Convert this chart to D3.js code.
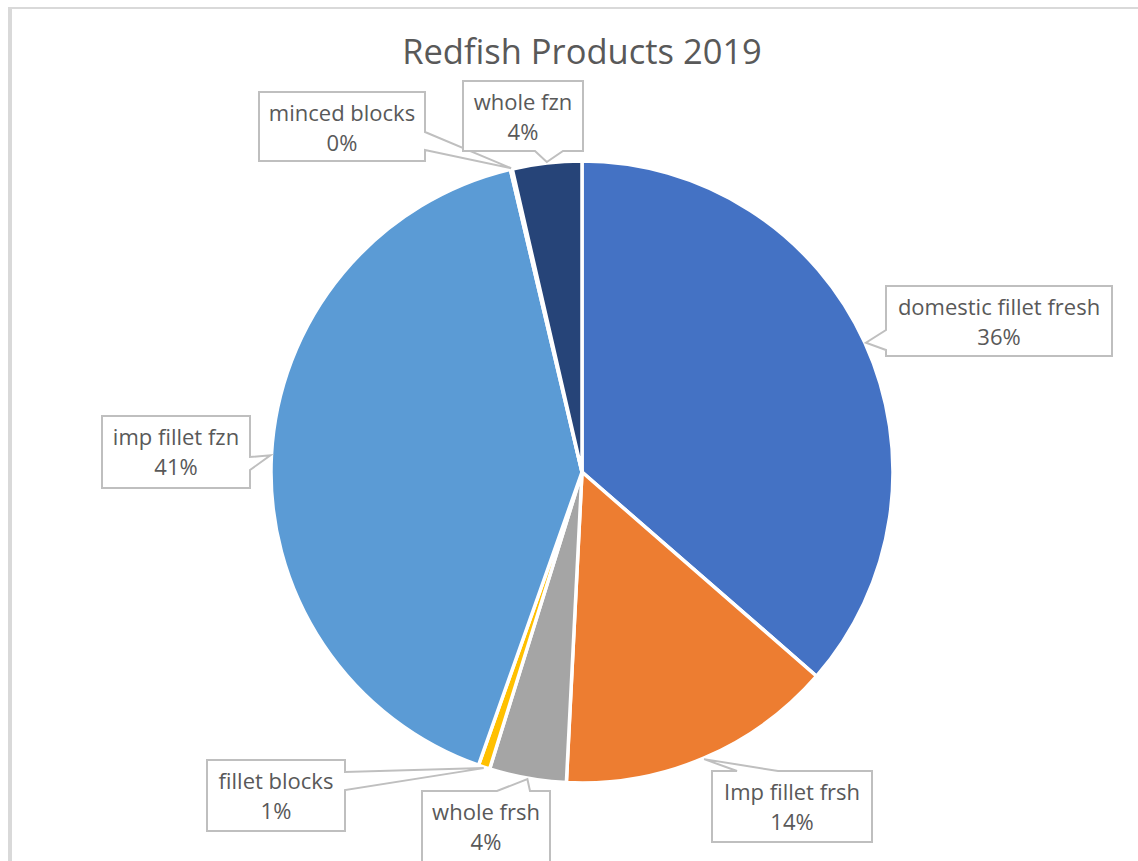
<!DOCTYPE html>
<html>
<head>
<meta charset="utf-8">
<script src="https://cdn.jsdelivr.net/npm/d3@7/dist/d3.min.js"></script>
<style>
  html, body { margin: 0; padding: 0; background: #ffffff; }
  svg { display: block; }
  text { font-family: "Open Sans", "Lato", "Liberation Sans", sans-serif; fill: #595959; }
</style>
</head>
<body>
<svg id="chart" width="1138" height="861"></svg>
<script>
// ---- data ----
const title = "Redfish Products 2019";
const categories = ["domestic fillet fresh", "Imp fillet frsh", "whole frsh", "fillet blocks", "imp fillet fzn", "minced blocks", "whole fzn"];
const values = [36.4, 14.4, 4.0, 0.6, 40.9, 0.1, 3.6];
const colors = ["#4472C4", "#ED7D31", "#A5A5A5", "#FFC000", "#5B9BD5", "#70AD47", "#264478"];

// ---- layout (callout boxes: x, y, w, h, tail side, tail base range) ----
const calloutLayout = [
  { box: [886, 286, 226, 70], side: "left",   base: [330, 350] },
  { box: [712, 771, 160, 71], side: "top",    base: [737, 778] },
  { box: [422, 791, 128, 72], side: "top",    base: [497, 530] },
  { box: [207, 760, 138, 71], side: "right",  base: [772, 790] },
  { box: [102, 416, 148, 72], side: "right",  base: [457, 470] },
  { box: [259, 92, 166, 69],  side: "right",  base: [132, 150] },
  { box: [463, 81, 120, 70],  side: "bottom", base: [535, 563] }
];

const svg = d3.select("#chart");
const cx = 582, cy = 472, r = 311;

// chart frame (partially visible)
svg.append("line").attr("x1", 10).attr("y1", 7).attr("x2", 10).attr("y2", 861)
  .attr("stroke", "#d9d9d9").attr("stroke-width", 4);
svg.append("line").attr("x1", 8).attr("y1", 8).attr("x2", 1138).attr("y2", 8)
  .attr("stroke", "#d9d9d9").attr("stroke-width", 2);

// title
svg.append("text").attr("x", cx).attr("y", 64).attr("text-anchor", "middle")
  .style("font-size", "34.5px").text(title);

const data = categories.map((c, i) => ({ name: c, value: values[i], color: colors[i], layout: calloutLayout[i] }));
const total = d3.sum(values);

const pie = d3.pie().sort(null).value(d => d.value);
const arcs = pie(data);
const arc = d3.arc().innerRadius(0).outerRadius(r);
const tipArc = d3.arc().innerRadius(r + 1).outerRadius(r + 1);

const g = svg.append("g").attr("transform", `translate(${cx},${cy})`);
g.selectAll("path.slice").data(arcs).enter().append("path")
  .attr("class", "slice")
  .attr("d", arc)
  .attr("fill", d => d.data.color)
  .attr("stroke", "#ffffff")
  .attr("stroke-width", 3.5)
  .attr("stroke-linejoin", "round");

// callouts
function calloutPath(L, tip) {
  const [x, y, w, h] = L.box;
  const x0 = x, y0 = y, x1 = x + w, y1 = y + h;
  const [a, b] = L.base;
  const t = tip;
  let p = `M${x0},${y0}`;
  if (L.side === "top") p += `L${a},${y0}L${t[0]},${t[1]}L${b},${y0}`;
  p += `L${x1},${y0}`;
  if (L.side === "right") p += `L${x1},${a}L${t[0]},${t[1]}L${x1},${b}`;
  p += `L${x1},${y1}`;
  if (L.side === "bottom") p += `L${b},${y1}L${t[0]},${t[1]}L${a},${y1}`;
  p += `L${x0},${y1}`;
  if (L.side === "left") p += `L${x0},${b}L${t[0]},${t[1]}L${x0},${a}`;
  p += "Z";
  return p;
}

const labels = svg.append("g");
arcs.forEach(d => {
  const c = tipArc.centroid(d);
  const tip = [cx + c[0], cy + c[1]];
  const L = d.data.layout;
  const [x, y, w] = L.box;
  const lg = labels.append("g");
  lg.append("path").attr("d", calloutPath(L, tip))
    .attr("fill", "#ffffff").attr("stroke", "#bfbfbf").attr("stroke-width", 2)
    .attr("stroke-linejoin", "miter");
  lg.append("text").attr("x", x + w / 2).attr("y", y + 29).attr("text-anchor", "middle")
    .style("font-size", "22px").text(d.data.name);
  lg.append("text").attr("x", x + w / 2).attr("y", y + 59).attr("text-anchor", "middle")
    .style("font-size", "22px").text(Math.round(d.data.value / total * 100) + "%");
});
</script>
</body>
</html>
